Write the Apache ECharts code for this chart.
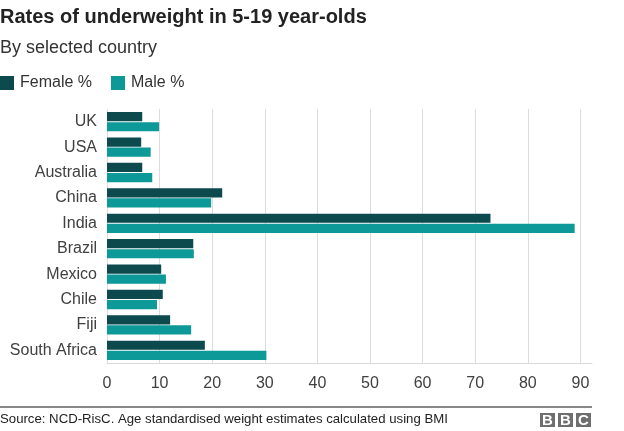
<!DOCTYPE html>
<html>
<head>
<meta charset="utf-8">
<script src="https://cdn.jsdelivr.net/npm/echarts@6/dist/echarts.min.js"></script>
<style>html,body{margin:0;padding:0;background:#fff}#c{width:624px;height:431px}</style>
</head>
<body>
<div id="c"></div>
<script>
const countries = ['UK','USA','Australia','China','India','Brazil','Mexico','Chile','Fiji','South Africa'];
const female = [6.7, 6.5, 6.7, 21.9, 72.9, 16.4, 10.3, 10.6, 12.0, 18.6];
const male = [9.9, 8.3, 8.6, 19.8, 88.9, 16.5, 11.2, 9.5, 16.0, 30.3];
const xTicks = [0,10,20,30,40,50,60,70,80,90];
const FONT = 'Arial, "Liberation Sans", Helvetica, sans-serif';
const chart = echarts.init(document.getElementById('c'), null, {renderer:'canvas'});
chart.setOption({
  animation: false,
  textStyle: {fontFamily: FONT},
  title: [{
    text: 'Rates of underweight in 5-19 year-olds',
    left: 0, top: 7, padding: 0,
    textStyle: {fontSize: 20, fontWeight: 'bold', color: '#222', fontFamily: FONT}
  },{
    text: 'By selected country',
    left: 0, top: 39, padding: 0,
    textStyle: {fontSize: 18, fontWeight: 'normal', color: '#333', fontFamily: FONT}
  }],
  legend: {
    left: 0, top: 75, padding: 0,
    icon: 'rect', itemWidth: 14, itemHeight: 14, itemGap: 19,
    textStyle: {fontSize: 16, color: '#333', fontFamily: FONT, padding:[0,0,0,1]},
    data: ['Female %','Male %']
  },
  grid: {left: 107, right: 32, top: 109, bottom: 68, containLabel: false},
  xAxis: {
    type: 'value', min: 0, max: 92.2, interval: 10,
    axisLine: {show: true, lineStyle: {color: '#d9d9d9'}},
    axisTick: {show: false},
    splitLine: {show: true, showMaxLine: false, lineStyle: {color: '#dcdcdc'}},
    axisLabel: {
      fontSize: 16, color: '#404040', margin: 13, showMaxLabel: false,
      formatter: v => xTicks.indexOf(Math.round(v)) >= 0 && Math.abs(v - Math.round(v)) < 1e-6 ? String(Math.round(v)) : ''
    }
  },
  yAxis: {
    type: 'category', data: countries, inverse: true,
    axisLine: {show: false}, axisTick: {show: false},
    axisLabel: {fontSize: 16, color: '#404040', margin: 10}
  },
  series: [{
    name: 'Female %', type: 'bar', data: female,
    itemStyle: {color: '#0c4a4d'},
    barCategoryGap: '24%', barGap: '10%'
  },{
    name: 'Male %', type: 'bar', data: male,
    itemStyle: {color: '#0c9997'},
    barCategoryGap: '24%', barGap: '10%'
  }],
  graphic: [
    {type: 'line', shape: {x1: 0, y1: 407, x2: 592, y2: 407}, style: {stroke: '#111', lineWidth: 1}},
    {type: 'text', left: 0, top: 413, style: {text: 'Source: NCD-RisC. Age standardised weight estimates calculated using BMI', fontSize: 13.2, fill: '#222', fontFamily: FONT}},
    {type: 'group', left: 540, top: 413, children: [
      {type: 'rect', shape: {x: 0, y: 0, width: 15, height: 14}, style: {fill: '#6e6e6e'}},
      {type: 'rect', shape: {x: 18, y: 0, width: 15, height: 14}, style: {fill: '#6e6e6e'}},
      {type: 'rect', shape: {x: 36, y: 0, width: 15, height: 14}, style: {fill: '#6e6e6e'}},
      {type: 'text', x: 7.5, y: 7.8, style: {text: 'B', fontSize: 15, fontWeight: 'bold', fill: '#fff', align: 'center', verticalAlign: 'middle', fontFamily: FONT}},
      {type: 'text', x: 25.5, y: 7.8, style: {text: 'B', fontSize: 15, fontWeight: 'bold', fill: '#fff', align: 'center', verticalAlign: 'middle', fontFamily: FONT}},
      {type: 'text', x: 43.5, y: 7.8, style: {text: 'C', fontSize: 15, fontWeight: 'bold', fill: '#fff', align: 'center', verticalAlign: 'middle', fontFamily: FONT}}
    ]}
  ]
});
</script>
</body>
</html>
